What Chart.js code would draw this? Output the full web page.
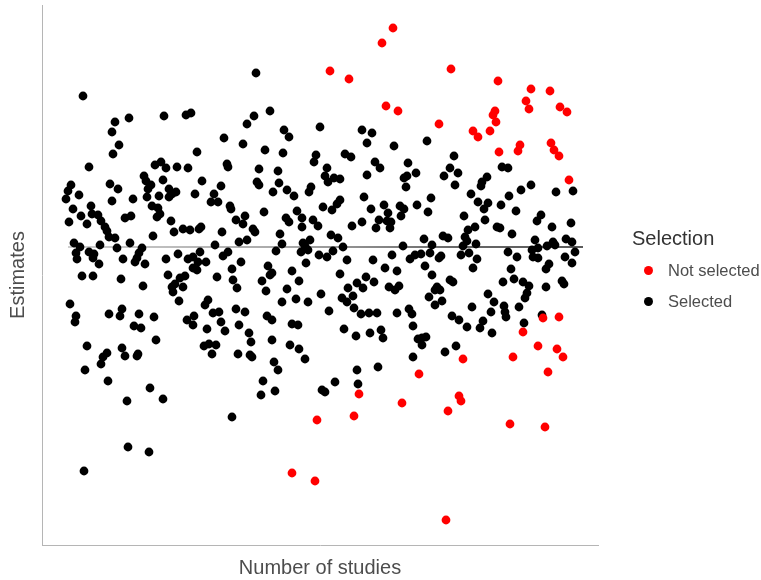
<!DOCTYPE html>
<html>
<head>
<meta charset="utf-8">
<script src="https://cdn.jsdelivr.net/npm/chart.js@4"></script>
<style>
  html, body { margin: 0; padding: 0; background: #fff; }
  #wrap { position: relative; width: 761px; height: 580px; font-family: "Liberation Sans", Arial, sans-serif; }
  #c { position: absolute; left: 0; top: 0; }
  .lg-title { position: absolute; left: 632px; top: 226px; font-size: 20px; line-height: 24px; color: #333; }
  .lg-item { position: absolute; left: 668px; font-size: 16.5px; line-height: 20px; color: #4d4d4d; white-space: nowrap; }
  .lg-dot { position: absolute; width: 9px; height: 9px; border-radius: 50%; }
</style>
</head>
<body>
<div id="wrap">
  <canvas id="c" width="761" height="580"></canvas>
  <div class="lg-title">Selection</div>
  <div class="lg-dot" style="left:644px;top:266px;background:#ff0000"></div>
  <div class="lg-item" style="top:260px">Not selected</div>
  <div class="lg-dot" style="left:644px;top:297px;background:#000000"></div>
  <div class="lg-item" style="top:291px">Selected</div>
</div>
<script>
// Points: [number of studies, estimate (x100)]
const selected = [
[41,151],[73,125],[70,115],[87,129],[77,102],[122,131],[144,132],[149,134],[182,109],
[214,174],[228,136],[212,131],[205,123],[242,117],[247,110],[278,120],[320,117],[330,114],[325,104],[352,101],[201,103],[385,106],
[71,93],[155,95],[47,80],[113,82],[119,85],[124,79],[135,80],[146,79],[185,83],[186,80],[29,62],[26,56],[24,48],[37,52],
[68,63],[76,58],[70,46],[49,41],[102,71],[104,66],[109,62],[106,58],[121,67],[105,50],[117,51],[127,58],[130,53],[134,55],
[127,50],[91,48],[160,66],[153,53],[179,61],[172,53],[169,45],[176,45],[188,41],[189,38],[110,41],[116,39],[118,33],[115,30],
[31,38],[39,31],[50,33],[56,32],[27,25],[45,23],[59,26],[63,20],[65,16],[67,10],[73,9],[83,29],[89,31],[129,26],[132,15],
[141,18],[148,17],[157,18],[159,20],[180,15],[194,27],[111,11],[88,4],[173,2],[32,4],[38,0],[58,2],[75,-1],[34,-6],[35,-12],
[47,-5],[52,-7],[51,-11],[57,-17],[81,-12],[95,-11],[100,-1],[97,-6],[93,-15],[103,-17],[124,-12],[136,-7],[146,-12],[151,-10],
[158,-5],[156,-15],[164,-15],[151,-21],[155,-23],[181,-9],[186,-5],[190,-22],[199,-15],[197,5],
[40,-29],[51,-29],[79,-32],[101,-39],[126,-28],[130,-40],[133,-37],[138,-31],[143,-29],[141,-40],[131,-45],[137,-54],[175,-30],
[191,-33],[195,-41],[28,-57],[34,-69],[33,-75],[67,-67],[80,-62],[78,-69],[97,-67],[112,-70],[92,-79],[99,-81],[114,-93],
[166,-53],[163,-58],[171,-66],[177,-65],[152,-69],[145,-73],[151,-78],[179,-75],[194,-62],[197,-78],[165,-82],[183,-84],
[45,-99],[65,-106],[61,-110],[59,-117],[80,-101],[83,-109],[96,-107],[95,-109],[162,-99],[167,-97],[174,-98],[170,-107],[196,-107],
[43,-123],[66,-134],[108,-141],[85,-154],[121,-152],[190,-170],[86,-200],[107,-205],[42,-224],
[223,97],[241,94],[274,92],[272,85],[303,93],[309,90],[333,85],[338,79],[366,84],[365,71],[362,69],[374,74],[364,60],
[217,78],[236,76],[215,65],[217,62],[237,64],[231,55],[245,57],[252,51],[269,60],[267,55],[285,79],[283,71],[286,65],[292,69],
[298,68],[325,72],[322,50],[375,42],[358,41],[362,38],[359,31],[342,42],[329,38],[346,34],[337,27],[345,26],[349,25],[348,19],
[334,19],[320,25],[310,21],[298,47],[295,43],[290,37],[281,40],[222,35],[255,36],[244,29],[247,25],[260,29],[260,20],[271,27],
[276,21],[203,31],[201,23],[211,18],[213,15],[238,13],[240,3],[205,7],[234,-4],[261,4],[268,7],[263,1],[259,-5],[266,-3],
[289,12],[296,9],[301,0],[291,-4],[277,-8],[285,-10],[305,-13],[264,-16],[226,-19],[230,-26],[250,-24],[298,-27],[324,-30],
[331,-13],[343,-21],[350,-8],[355,-24],[361,1],[368,-12],[373,-8],
[412,91],[408,79],[402,71],[416,74],[413,62],[460,80],[466,79],[445,70],[440,65],[439,61],[429,53],[479,57],[489,62],[514,55],
[531,56],[467,51],[459,42],[436,45],[446,44],[442,38],[389,49],[386,35],[474,36],[422,31],[443,27],[499,32],[495,26],[529,24],
[510,20],[455,20],[458,19],[433,20],[426,17],[470,13],[401,11],[406,9],[423,10],[425,6],[434,3],[382,8],[390,2],[421,1],
[493,7],[511,5],[513,2],[524,8],[530,5],[505,1],[496,-1],[490,-3],[491,-10],[496,-11],[533,-5],[523,-10],[530,-16],[507,-17],
[504,-22],[466,-5],[475,-10],[469,-22],[419,-8],[427,-6],[435,-12],[431,-21],[388,-6],[397,-11],[399,-9],[379,-7],[383,-19],[390,-28],
[220,-34],[228,-28],[224,-44],[245,-42],[257,-34],[240,-55],[254,-52],[266,-55],[279,-47],[287,-64],[306,-41],[315,-36],[332,-35],
[321,-41],[300,-51],[305,-55],[311,-49],[312,-61],[319,-67],[327,-66],[335,-66],[347,-40],[353,-43],[357,-39],[355,-66],[367,-62],
[370,-67],[371,-79],[203,-65],[225,-69],[230,-73],[250,-77],[256,-78],[207,-86],[209,-95],[230,-93],[248,-98],[257,-102],[263,-112],
[208,-108],[210,-110],[302,-82],[314,-89],[328,-86],[339,-83],[341,-91],[376,-92],[380,-91],[384,-90],[380,-98],[371,-110],
[232,-115],[236,-123],[315,-123],[336,-120],[221,-134],[293,-135],[316,-137],[233,-144],[219,-148],[280,-143],[283,-145],
[395,-40],[393,-43],[398,-43],[408,-33],[411,-35],[387,-50],[393,-58],[400,-54],[410,-69],[417,-73],[430,-60],[425,-80],[438,-81],
[441,-74],[450,-86],[446,-47],[452,-55],[449,-65],[461,-35],[472,-32],[481,-35],[487,-39],[485,-46],[483,-51],[462,-59],[463,-65],
[464,-70],[477,-60],[504,-40],[520,-34],[522,-37],[500,-68],[482,-76],[403,-105],[414,-99]
];
const notSelected = [
[288,176],[307,168],[340,204],[351,219],[344,141],[356,136],[409,178],[456,166],[489,158],[508,156],[484,146],[487,138],
[518,140],[525,135],[453,136],[451,132],[454,125],[397,123],[431,116],[436,110],[448,116],[478,102],[476,96],[509,104],
[512,97],[517,91],[457,95],[527,67],[501,-71],[517,-70],[481,-85],[421,-112],[471,-110],[496,-99],[515,-102],[521,-110],
[506,-125],[377,-127],[417,-149],[419,-154],[317,-147],[360,-156],[275,-173],[312,-169],[250,-226],[273,-234],[406,-164],
[468,-177],[503,-180],[404,-273]
];
const referenceEstimate = 0;
const referenceSpan = [26, 541];
const xRange = [0, 556];
const yRange = [-298, 242];

const toPts = arr => arr.map(p => ({x: p[0], y: p[1]}));

Chart.defaults.font.family = '"Liberation Sans", Arial, sans-serif';

new Chart(document.getElementById('c'), {
  type: 'scatter',
  data: {
    datasets: [
      {
        type: 'line',
        data: referenceSpan.map(x => ({x: x, y: referenceEstimate})),
        borderColor: (ctx) => {
          const ch = ctx.chart; const area = ch.chartArea;
          if (!area) return '#666';
          const g = ch.ctx.createLinearGradient(area.left, 0, area.right, 0);
          g.addColorStop(0, '#c4c4c4');
          g.addColorStop(0.45, '#8a8a8a');
          g.addColorStop(0.75, '#333333');
          g.addColorStop(1, '#222222');
          return g;
        },
        borderWidth: 1.6,
        pointRadius: 0,
        fill: false,
        order: 3
      },
      {
        data: toPts(selected),
        backgroundColor: '#000000',
        borderWidth: 0,
        pointRadius: 4.4,
        order: 2
      },
      {
        data: toPts(notSelected),
        backgroundColor: '#ff0000',
        borderWidth: 0,
        pointRadius: 4.4,
        order: 1
      }
    ]
  },
  options: {
    responsive: false,
    devicePixelRatio: 1,
    animation: false,
    layout: { padding: { left: 0, right: 163, top: 5, bottom: 0 } },
    plugins: { legend: { display: false }, tooltip: { enabled: false } },
    scales: {
      x: {
        type: 'linear', min: xRange[0], max: xRange[1],
        grid: { display: false },
        ticks: { display: false },
        border: { display: true, color: '#b5b5b5', width: 1 },
        title: { display: true, text: 'Number of studies', color: '#4d4d4d', font: { size: 20 }, padding: { top: 0, bottom: 0 } },
        afterFit: (s) => { s.height = 35; }
      },
      y: {
        type: 'linear', min: yRange[0], max: yRange[1],
        grid: { display: false },
        ticks: { display: false },
        border: { display: true, color: '#b5b5b5', width: 1 },
        title: { display: true, text: 'Estimates', color: '#4d4d4d', font: { size: 20 }, padding: { top: 6, bottom: 0 } },
        afterFit: (s) => { s.width = 42; }
      }
    }
  }
});
</script>
</body>
</html>
